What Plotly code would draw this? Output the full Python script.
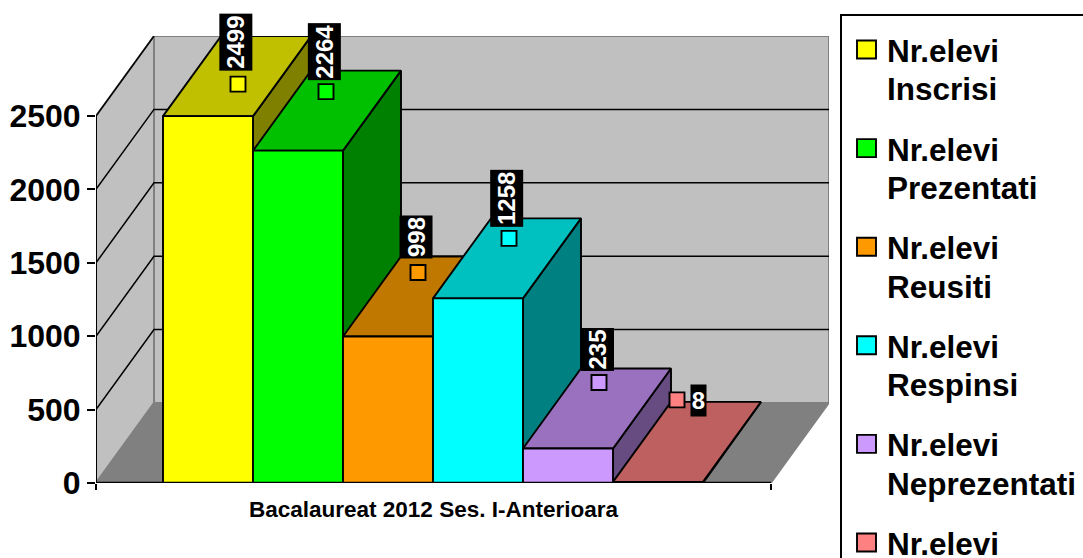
import plotly.graph_objects as go

# ---- data ----
series_names = ["Nr.elevi Inscrisi", "Nr.elevi Prezentati", "Nr.elevi Reusiti",
                "Nr.elevi Respinsi", "Nr.elevi Neprezentati", "Nr.elevi"]
values = [2499, 2264, 998, 1258, 235, 8]
y_ticks = [0, 500, 1000, 1500, 2000, 2500]
category_label = "Bacalaureat 2012 Ses. I-Anterioara"
legend_lines = [["Nr.elevi", "Inscrisi"], ["Nr.elevi", "Prezentati"], ["Nr.elevi", "Reusiti"],
                ["Nr.elevi", "Respinsi"], ["Nr.elevi", "Neprezentati"], ["Nr.elevi"]]

# ---- styles ----
front_colors = ["#FFFF00", "#00FF00", "#FF9900", "#00FFFF", "#CC99FF", "#FF8080"]
top_colors = ["#C0C000", "#00C000", "#C07800", "#00C0C0", "#9A71BF", "#BF6060"]
side_colors = ["#808000", "#008000", "#804F00", "#008080", "#664C80", "#804040"]
WALL, FLOOR, EDGE = "#C0C0C0", "#808080", "#808080"
FONT = "Liberation Sans"
W, H = 1083, 558

# plot geometry (pixels)
px_left, px_right, px_bottom, px_top = 96, 829, 483, 36
px_per_value = 367 / 2500
slot_px = 90
bar_start_px = 163
depth_px_x, depth_px_y = 58, 80

dx = depth_px_x / slot_px
dy = depth_px_y / px_per_value
x_left = -0.5 - (bar_start_px - px_left) / slot_px
x_max = x_left + (px_right - px_left) / slot_px
x_front_right = x_max - dx
y_max = (px_bottom - px_top) / px_per_value

fig = go.Figure()


def poly(xs, ys, fill, line="black", lw=1.9):
    fig.add_trace(go.Scatter(x=xs + xs[:1], y=ys + ys[:1], mode="lines", fill="toself", fillcolor=fill,
                             line=dict(color=line, width=lw), hoverinfo="skip", showlegend=False,
                             cliponaxis=False))


def line(xs, ys, color="black", lw=1.6):
    fig.add_trace(go.Scatter(x=xs, y=ys, mode="lines", line=dict(color=color, width=lw),
                             hoverinfo="skip", showlegend=False, cliponaxis=False))


top_val = y_ticks[-1]
# walls and floor
poly([x_left + dx, x_max, x_max, x_left + dx], [dy, dy, top_val + dy, top_val + dy], WALL, EDGE, 2)
poly([x_left, x_left + dx, x_left + dx, x_left], [0, dy, top_val + dy, top_val], WALL, EDGE, 2)
poly([x_left, x_left + dx, x_max, x_front_right], [0, dy, dy, 0], FLOOR, EDGE, 1.5)
# gridlines
for v in y_ticks[1:-1]:
    line([x_left, x_left + dx, x_max], [v, v + dy, v + dy], "black", 1.5)
line([x_left, x_left + dx], [top_val, top_val + dy], "black", 1.5)

# bars: faces in painter order, every corner derived from the value
for i, v in enumerate(values):
    l, r = i - 0.5, i + 0.5
    poly([r, r + dx, r + dx, r], [0, dy, v + dy, v], side_colors[i])
    poly([l, r, r + dx, l + dx], [v, v, v + dy, v + dy], top_colors[i])
    poly([l, r, r, l], [0, 0, v, v], front_colors[i])

# axis lines
line([x_left, x_left], [0, top_val], "black", 2)
line([x_left, x_front_right], [0, 0], "black", 2.6)

# label keys (offset in px from the front-top centre of each bar)
key_offsets = [(30, -32), (28, -59), (30, -64), (31, -60), (31, -66), (19, -82)]
for i, v in enumerate(values):
    fig.add_trace(go.Scatter(x=[i + key_offsets[i][0] / slot_px],
                             y=[v - key_offsets[i][1] / px_per_value],
                             mode="markers", hoverinfo="skip", showlegend=False, cliponaxis=False,
                             marker=dict(symbol="square", size=15, color=front_colors[i],
                                         line=dict(color="black", width=1.9))))

annotations = []
# data labels
label_offsets = [(28, -74), (26, -99), (28, -99.5), (29, -100), (29, -99), (40.5, -81.5)]
label_boxes = [(56, 32), (56, 32), (42, 32), (56, 32), (42, 32), (15, 31)]
label_angles = [-90, -90, -90, -90, -90, 0]
for i, v in enumerate(values):
    annotations.append(dict(x=i, y=v, xref="x", yref="y", text=f"<b>{v}</b>", showarrow=False,
                            xshift=label_offsets[i][0], yshift=-label_offsets[i][1],
                            textangle=label_angles[i], bgcolor="black", borderpad=0,
                            width=label_boxes[i][0], height=label_boxes[i][1], align="center",
                            font=dict(family=FONT, size=24, color="white")))
# category label
annotations.append(dict(x=(x_left + x_front_right) / 2, y=(H - 509) / H, xref="x", yref="paper",
                        text=f"<b>{category_label}</b>", showarrow=False, xanchor="center", yanchor="middle",
                        font=dict(family=FONT, size=22.5, color="black")))

# legend box drawn with paper-space shapes and text
shapes = [dict(type="rect", xref="paper", yref="paper", x0=841 / W, x1=1100 / W, y0=1 - 15 / H, y1=1 - 600 / H,
               line=dict(color="black", width=2), fillcolor="white", layer="below")]
step = 98.6
for i, lines in enumerate(legend_lines):
    py = 50 + i * step
    shapes.append(dict(type="rect", xref="paper", yref="paper", x0=857 / W, x1=876 / W,
                       y0=1 - (py - 9.5) / H, y1=1 - (py + 8.5) / H, fillcolor=front_colors[i],
                       line=dict(color="black", width=1.9), layer="above"))
    for j, t in enumerate(lines):
        annotations.append(dict(x=885 / W, y=1 - (py + 1 + j * 38.5) / H, xref="paper", yref="paper",
                                text=f"<b>{t}</b>", showarrow=False, xanchor="left", yanchor="middle",
                                font=dict(family=FONT, size=31.5, color="black")))

fig.update_layout(
    width=W, height=H, margin=dict(l=0, r=0, t=0, b=0), paper_bgcolor="white", plot_bgcolor="white",
    showlegend=False, shapes=shapes, annotations=annotations,
    xaxis=dict(domain=[px_left / W, px_right / W], range=[x_left, x_max], showgrid=False, zeroline=False,
               showline=False, tickmode="array", tickvals=[x_left, x_front_right], ticktext=["", ""],
               ticks="outside", ticklen=6, tickwidth=2, tickcolor="black", automargin=False),
    yaxis=dict(domain=[(H - px_bottom) / H, (H - px_top) / H], range=[0, y_max], showgrid=False, zeroline=False,
               showline=False, tickmode="array", tickvals=y_ticks, ticks="outside", ticklen=8, tickwidth=2,
               tickcolor="black", automargin=False, tickfont=dict(family=FONT, size=32, color="black", weight="bold")),
)

fig.write_html("out.html", config={"displayModeBar": False},
               post_script="document.body.style.margin='0';document.body.style.overflow='hidden';")
